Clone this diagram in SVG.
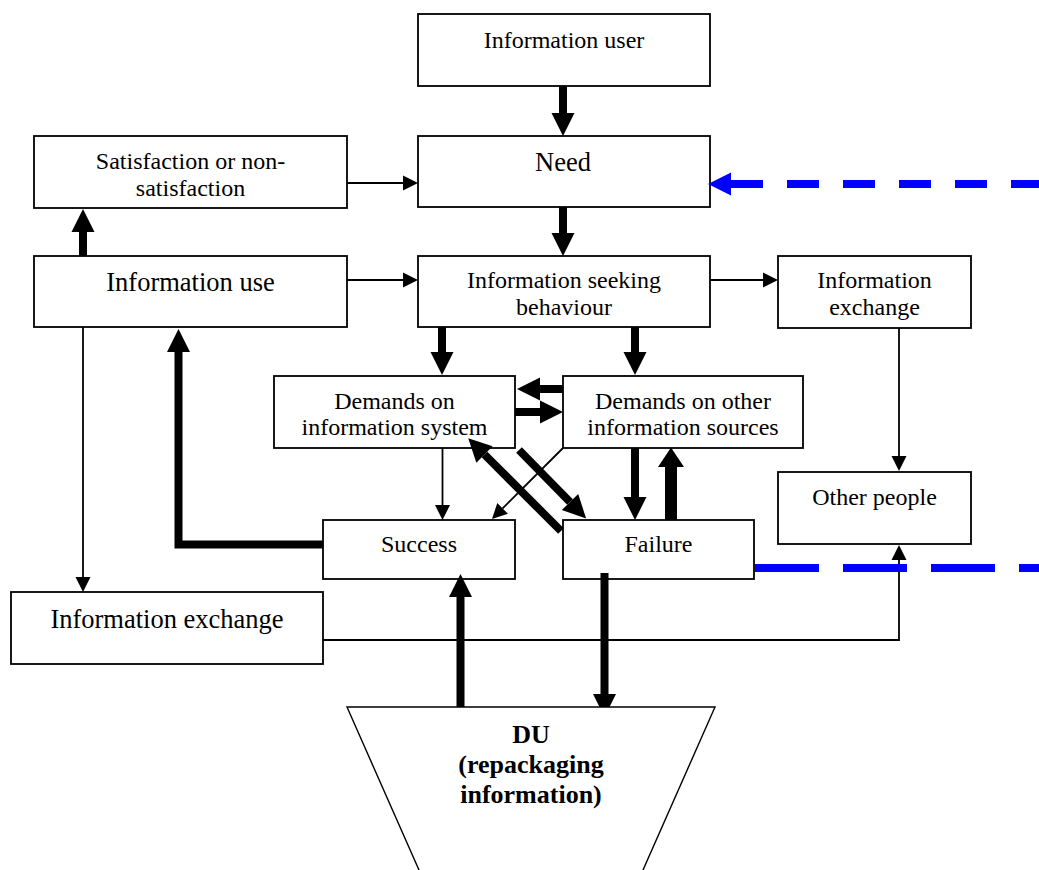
<svg xmlns="http://www.w3.org/2000/svg" width="1039" height="870" viewBox="0 0 1039 870">
  <style>
    .box { fill: #fff; stroke: #000; stroke-width: 1.8; }
    .du { fill: #fff; stroke: #000; stroke-width: 1.4; }
    text { font-family: "Liberation Serif", "Times New Roman", serif; font-size: 24px; fill: #000; text-anchor: middle; }
    .big { font-size: 26.5px; }
    .bold { font-weight: bold; font-size: 26px; }
    .thin { fill: none; stroke: #000; stroke-width: 1.8; marker-end: url(#headThin); }
    .thick { fill: none; stroke: #000; stroke-width: 8; marker-end: url(#headThick); }
    .wide { fill: none; stroke: #000; stroke-width: 12; marker-end: url(#headWide); }
    .blue { fill: none; stroke: #0000ff; stroke-width: 8; }
  </style>
  <defs>
    <marker id="headThin" markerUnits="userSpaceOnUse" orient="auto" refX="0" refY="0" markerWidth="20" markerHeight="20" overflow="visible">
      <path d="M0,-7.5 L15,0 L0,7.5 Z" fill="#000"/>
    </marker>
    <marker id="headThick" markerUnits="userSpaceOnUse" orient="auto" refX="0" refY="0" markerWidth="30" markerHeight="30" overflow="visible">
      <path d="M0,-11.5 L23,0 L0,11.5 Z" fill="#000"/>
    </marker>
    <marker id="headWide" markerUnits="userSpaceOnUse" orient="auto" refX="0" refY="0" markerWidth="30" markerHeight="30" overflow="visible">
      <path d="M0,-13 L19.5,0 L0,13 Z" fill="#000"/>
    </marker>
    <marker id="headBlue" markerUnits="userSpaceOnUse" orient="auto" refX="0" refY="0" markerWidth="30" markerHeight="30" overflow="visible">
      <path d="M0,-11.5 L23,0 L0,11.5 Z" fill="#0000ff"/>
    </marker>
  </defs>

  <rect width="1039" height="870" fill="#fff"/>

  <!-- boxes -->
  <g id="information-user">
    <rect class="box" x="418" y="14" width="292" height="72"/>
    <text x="564" y="48">Information user</text>
  </g>
  <g id="need">
    <rect class="box" x="418" y="136" width="292" height="71"/>
    <text class="big" x="563" y="171">Need</text>
  </g>
  <g id="information-seeking-behaviour">
    <rect class="box" x="418" y="256" width="292" height="71"/>
    <text x="564" y="288">Information seeking</text>
    <text x="564" y="315">behaviour</text>
  </g>
  <g id="satisfaction">
    <rect class="box" x="34" y="136" width="313" height="72"/>
    <text x="190.5" y="169">Satisfaction or non-</text>
    <text x="190.5" y="196">satisfaction</text>
  </g>
  <g id="information-use">
    <rect class="box" x="34" y="256" width="313" height="71"/>
    <text class="big" x="190.5" y="291">Information use</text>
  </g>
  <g id="information-exchange-right">
    <rect class="box" x="778" y="256" width="193" height="72"/>
    <text x="874.5" y="288">Information</text>
    <text x="874.5" y="315">exchange</text>
  </g>
  <g id="other-people">
    <rect class="box" x="778" y="472" width="193" height="72"/>
    <text x="874.5" y="505">Other people</text>
  </g>
  <g id="demands-information-system">
    <rect class="box" x="274" y="376" width="241" height="72"/>
    <text x="394.5" y="409">Demands on</text>
    <text x="394.5" y="435">information system</text>
  </g>
  <g id="demands-other-sources">
    <rect class="box" x="563" y="376" width="240" height="72"/>
    <text x="683" y="409">Demands on other</text>
    <text x="683" y="435">information sources</text>
  </g>
  <g id="success">
    <rect class="box" x="323" y="520" width="192" height="59"/>
    <text x="419" y="552">Success</text>
  </g>
  <g id="failure">
    <rect class="box" x="563" y="520" width="191" height="59"/>
    <text x="658.5" y="552">Failure</text>
  </g>
  <g id="information-exchange-left">
    <rect class="box" x="11" y="592" width="312" height="72"/>
    <text class="big" x="167" y="628">Information exchange</text>
  </g>

  <!-- connectors -->
  <g id="connectors">
    <path class="thick" d="M563,86 V113"/>
    <path class="thick" d="M563,207 V233"/>
    <path class="thick" d="M442,327 V352"/>
    <path class="thick" d="M635,327 V352"/>
    <path class="thick" d="M563,389 H540"/>
    <path class="thick" d="M515,412 H540"/>
    <path class="thick" d="M519,450 L570,502"/>
    <path class="thick" d="M561,531 L484.5,454.5"/>
    <path class="thick" d="M635,448 V497"/>
    <path class="wide" d="M671,520 V467"/>
    <path class="thick" d="M323,544.5 H178.5 V352"/>
    <path class="thick" d="M83,256 V232"/>
    <path class="thick" d="M460.5,707 V597"/>
    <path class="thick" d="M604.5,573 V694"/>

    <path class="thin" d="M442.5,448 V505"/>
    <path class="thin" d="M563,448 L502.6,508.4"/>
    <path class="thin" d="M83,327 V577"/>
    <path class="thin" d="M347,183 H403"/>
    <path class="thin" d="M347,280 H403"/>
    <path class="thin" d="M710,280 H763"/>
    <path class="thin" d="M899,328 V456"/>
    <path class="thin" d="M323,640 H899 V560"/>

    <path class="blue" d="M1043,184 H731" stroke-dasharray="32 24" marker-end="url(#headBlue)"/>
    <path class="blue" d="M755,568 H1039" stroke-dasharray="64 24"/>
  </g>

  <!-- repackaging unit -->
  <g id="du">
    <polygon class="du" points="347,707 715,707 638.6,880 423.4,880"/>
    <text class="bold" x="531" y="743">DU</text>
    <text class="bold" x="531" y="773">(repackaging</text>
    <text class="bold" x="531" y="803">information)</text>
  </g>
</svg>
